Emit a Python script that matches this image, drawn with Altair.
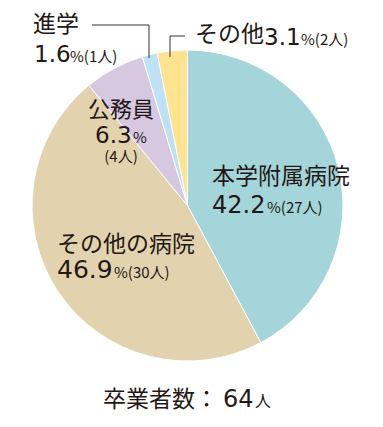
import altair as alt
import pandas as pd

# ---- data ----
categories = ["本学附属病院", "その他の病院", "公務員", "進学", "その他"]
counts = [27, 30, 4, 1, 2]
percents = [42.2, 46.9, 6.3, 1.6, 3.1]
colors = ["#a3d5da", "#e2d3ae", "#d6c8e0", "#bee1f5", "#fee491"]
total_prefix = "卒業者数："
total_count = 64

df = pd.DataFrame({
    "category": categories,
    "count": counts,
    "percent": percents,
    "order": list(range(len(categories))),
})

W, H = 367, 411
CX, CY, R = 179.5, 197.5, 155.5
JP = "Noto Sans CJK JP"
NUM = "DejaVu Sans"
INK = "#231815"

pie = alt.Chart(df).mark_arc(outerRadius=R, stroke="white", strokeWidth=1).encode(
    theta=alt.Theta("count:Q", stack=True),
    order=alt.Order("order:Q"),
    color=alt.Color("category:N", scale=alt.Scale(domain=categories, range=colors), legend=None),
    x=alt.value(CX),
    y=alt.value(CY),
)

def fmt(p):
    return f"{p:.1f}"

# label pieces: (text, x, y, size, align, font)
pieces = [
    (categories[0], 204, 176, 23, "left", JP),
    (fmt(percents[0]), 204, 205, 24, "left", NUM),
    (f"%({counts[0]}人)", 259, 205, 15, "left", JP),
    (categories[1], 49, 244, 23, "left", JP),
    (fmt(percents[1]), 49, 270, 25, "left", NUM),
    (f"%({counts[1]}人)", 106, 270, 15, "left", JP),
    (categories[2], 113, 109, 22, "center", JP),
    (fmt(percents[2]), 87, 135, 23, "left", NUM),
    ("%", 125, 135, 15, "left", JP),
    (f"({counts[2]}人)", 113, 154, 15, "center", JP),
    (categories[3], 25, 24, 23, "left", JP),
    (fmt(percents[3]), 26, 54, 23, "left", NUM),
    (f"%({counts[3]}人)", 62, 54, 15, "left", JP),
    (categories[4], 187, 34, 23, "left", JP),
    (fmt(percents[4]), 256, 37, 23, "left", NUM),
    (f"%({counts[4]}人)", 293, 37, 15, "left", JP),
    (total_prefix, 95, 399, 23, "left", JP),
    (str(total_count), 215, 399, 24, "left", NUM),
    ("人", 247, 399, 16, "left", JP),
]

layers = [pie]
for t, x, y, s, a, f in pieces:
    layers.append(
        alt.Chart(pd.DataFrame({"t": [t]})).mark_text(
            font=f, fontSize=s, align=a, baseline="alphabetic", color=INK
        ).encode(text="t:N", x=alt.value(x), y=alt.value(y))
    )

# leader lines
segs = [
    (84, 141, 17, 17),
    (141, 141, 17, 50),
    (162, 162, 28, 49),
    (162, 177, 28, 28),
]
for x1, x2, y1, y2 in segs:
    layers.append(
        alt.Chart(pd.DataFrame({"a": [0]})).mark_rule(color="#333333", strokeWidth=1).encode(
            x=alt.value(x1), x2=alt.value(x2), y=alt.value(y1), y2=alt.value(y2)
        )
    )

chart = alt.layer(*layers).properties(
    width=W, height=H, padding=0, autosize=alt.AutoSizeParams(type="none")
).configure_view(stroke=None)

chart.save("out.html", embed_options={"renderer": "svg", "actions": False})
